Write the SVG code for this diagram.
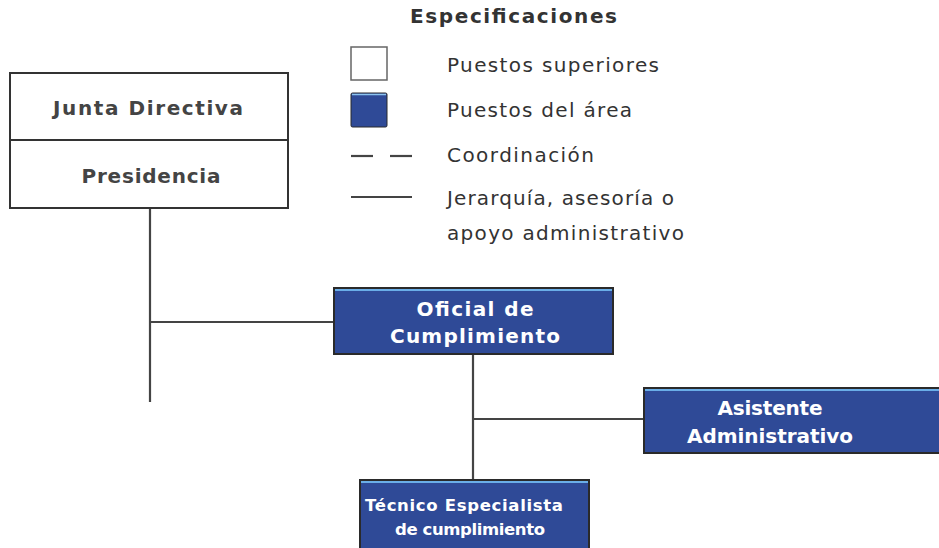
<svg xmlns="http://www.w3.org/2000/svg" width="939" height="548" viewBox="0 0 939 548">
<style>
text{font-family:"DejaVu Sans","Liberation Sans",sans-serif}
.lg{font-size:20px;fill:#333}
.hd{font-size:20px;font-weight:bold;fill:#333}
.wt{font-size:20px;font-weight:bold;fill:#444;text-anchor:middle}
.bt{font-size:20px;font-weight:bold;fill:#fff;text-anchor:middle}
.sm{font-size:16.5px}
.wb{fill:#fff;stroke:#333;stroke-width:2}
.bb{fill:#2f4a97;stroke:#2a2a2a;stroke-width:2}
.tp{stroke:#6aaee8;stroke-width:2}
.ln{stroke:#444;stroke-width:2.2;fill:none}
</style>
<rect width="939" height="548" fill="#fff"/>
<g id="legend">
<text class="hd" x="410" y="23" textLength="207" lengthAdjust="spacing">Especificaciones</text>
<rect x="351" y="47" width="36" height="33" fill="#fff" stroke="#666" stroke-width="1.5"/>
<text class="lg" x="447" y="72" textLength="212" lengthAdjust="spacing">Puestos superiores</text>
<rect x="351" y="93" width="36" height="34" rx="1.5" fill="#2f4a97" stroke="#2a2a2a" stroke-width="1"/>
<line x1="352" y1="94.5" x2="386" y2="94.5" stroke="#8cc4f0" stroke-width="1.5"/>
<text class="lg" x="447" y="117" textLength="185" lengthAdjust="spacing">Puestos del área</text>
<line class="ln" x1="351" y1="156" x2="373" y2="156"/>
<line class="ln" x1="390" y1="156" x2="412" y2="156"/>
<text class="lg" x="447" y="162" textLength="147" lengthAdjust="spacing">Coordinación</text>
<line class="ln" x1="351" y1="197" x2="412" y2="197"/>
<text class="lg" x="447" y="205" textLength="227" lengthAdjust="spacing">Jerarquía, asesoría o</text>
<text class="lg" x="447" y="240" textLength="237" lengthAdjust="spacing">apoyo administrativo</text>
</g>
<g id="connectors">
<line class="ln" x1="150" y1="208" x2="150" y2="402"/>
<line class="ln" x1="150" y1="322" x2="334" y2="322"/>
<line class="ln" x1="473" y1="354" x2="473" y2="480"/>
<line class="ln" x1="473" y1="419" x2="644" y2="419"/>
</g>
<g id="junta">
<rect class="wb" x="10" y="73" width="278" height="67"/>
<text class="wt" x="148" y="115" textLength="190" lengthAdjust="spacing">Junta Directiva</text>
</g>
<g id="presidencia">
<rect class="wb" x="10" y="140" width="278" height="68"/>
<text class="wt" x="151" y="183" textLength="139" lengthAdjust="spacing">Presidencia</text>
</g>
<g id="oficial">
<rect class="bb" x="334" y="288" width="279" height="66"/>
<line class="tp" x1="335" y1="290" x2="612" y2="290"/>
<text class="bt" x="475" y="316" textLength="117" lengthAdjust="spacing">Oficial de</text>
<text class="bt" x="475" y="343" textLength="170" lengthAdjust="spacing">Cumplimiento</text>
</g>
<g id="asistente">
<rect class="bb" x="644" y="388" width="310" height="65"/>
<line class="tp" x1="645" y1="390" x2="952" y2="390"/>
<text class="bt" x="770" y="415" textLength="105" lengthAdjust="spacing">Asistente</text>
<text class="bt" x="770" y="443" textLength="166" lengthAdjust="spacing">Administrativo</text>
</g>
<g id="tecnico">
<rect class="bb" x="360" y="480" width="229" height="72"/>
<line class="tp" x1="361" y1="482" x2="588" y2="482"/>
<text class="bt sm" x="464" y="511" textLength="198" lengthAdjust="spacing">Técnico Especialista</text>
<text class="bt sm" x="470" y="535" textLength="150" lengthAdjust="spacing">de cumplimiento</text>
</g>
</svg>
